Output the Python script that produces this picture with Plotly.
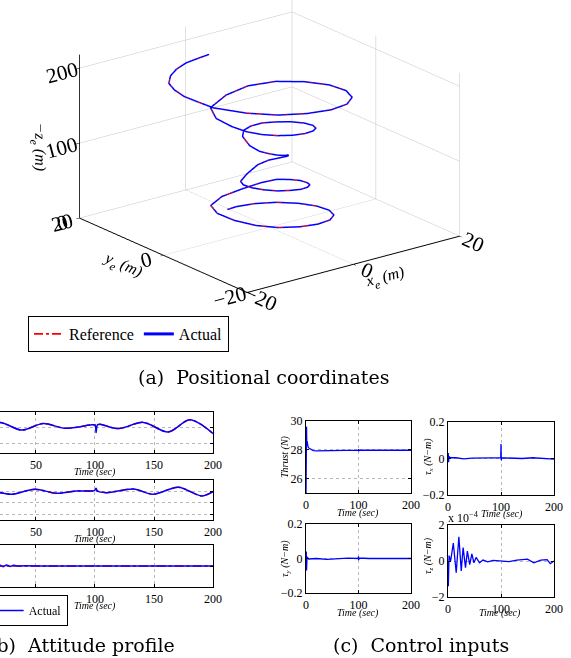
import plotly.graph_objects as go

# ---------------- (a) positional coordinates (3-D trajectory) ----------------
ref_x = [-3.29, -1.54, 1.35, 4.18, 6.51, 7.96, 8.33, 7.60, 5.83, 3.30, 0.44, -2.42, -4.67, -6.24, -7.19, -6.96,
         -4.86, -1.81, 0.65, 2.56,
         3.97, 4.84, 5.10, 4.76, 3.82, 2.46, 0.87, -0.80, -2.20, -3.18, -3.61, -3.44,
         -2.26, -0.74, 0.73, 1.78, 2.38, 2.65, 2.55, 2.24, 1.80, 1.26, 0.67, -0.08, -1.04, -2.16, -3.02, -3.20,
         -2.21, -0.57, 1.41, 3.28, 4.84, 5.84, 6.05, 5.48, 4.21, 2.40, 0.40, -1.52, -3.18, -4.44, -5.41, -6.32,
         -5.68,
         -2.30, 1.73, 5.68, 8.68, 10.56, 10.93, 9.76, 7.25, 3.76, -0.12, -4.04, -7.57, -10.57, -11.63, -12.39,
         -12.42, -11.92, -10.51, -8.64, -6.42, -3.93, -2.28]
ref_y = [5.90, 6.01, 5.33, 3.74, 1.47, -1.11, -3.66, -5.70, -7.00, -7.33, -6.68, -5.06, -2.62, 0.45, 3.37, 5.22,
         5.23, 4.01, 2.86, 1.58,
         0.26, -1.16, -2.49, -3.57, -4.21, -4.32, -3.88, -2.90, -1.46, 0.17, 1.66, 2.58,
         2.55, 1.89, 1.19, 0.54, -0.05, -0.66, -1.20, -1.68, -2.06, -2.27, -2.23, -1.94, -1.30, -0.34, 0.92, 2.40,
         3.38, 3.78, 3.57, 2.54, 0.99, -0.84, -2.63, -4.11, -5.07, -5.34, -4.93, -3.86, -2.24, -0.21, 2.04, 4.74,
         6.90,
         7.47, 7.36, 5.74, 2.72, -0.84, -4.37, -7.32, -9.27, -9.90, -9.14, -7.22, -4.14, -0.03, 2.32, 4.75,
         6.94, 8.94, 10.32, 11.27, 11.77, 11.79, 11.56]
ref_z = [15.0, 15.3, 15.6, 16.0, 16.0, 16.0, 16.0, 16.0, 16.0, 16.0, 16.2, 16.5, 17.5, 19.5, 23.5, 29.0,
         37.0, 45.0, 51.0, 55.0,
         55.5, 56.0, 56.0, 56.5, 56.5, 56.5, 57.0, 57.0, 57.5, 58.0, 59.0, 61.0,
         69.0, 80.0, 85.0, 87.0, 89.0, 91.0, 93.5, 96.0, 98.0, 99.0, 100.0, 101.0, 103.0, 106.0, 112.0, 121.0,
         125.0, 126.5, 127.5, 128.0, 129.0, 130.0, 131.0, 132.0, 133.0, 133.5, 134.0, 134.5, 135.0, 136.0, 139.0, 145.0,
         153.0,
         162.0, 167.0, 169.5, 171.0, 172.0, 172.5, 173.0, 173.5, 174.0, 174.5, 175.0, 176.5, 179.0, 183.0, 186.0,
         189.0, 192.0, 196.0, 199.0, 202.0, 204.0, 206.0]
act_x = ref_x
act_y = ref_y
act_z = ref_z

# ---------------- (b) attitude profile ----------------
b1_t = [0, 19.5, 37.9, 56.2, 74.6, 95.8, 100.0, 100.9, 102.0, 104.2, 119.8, 141.0, 162.1, 180.5, 200]
b1_ref = [0.0, 0.029, -0.019, 0.022, -0.008, 0.012, 0.013, 0.013, 0.014, 0.017, -0.010, 0.029, -0.031, 0.045, -0.041]
b1_act = [0.0, 0.029, -0.019, 0.022, -0.008, 0.012, 0.013, -0.035, 0.012, 0.017, -0.010, 0.029, -0.031, 0.045, -0.041]

b2_t = [0, 19.5, 29.4, 49.2, 67.5, 84.5, 99.5, 100.9, 102.0, 109.9, 132.5, 149.4, 170.6, 190.4, 200]
b2_ref = [0.0, -0.010, -0.024, 0.019, -0.016, 0.004, 0.007, 0.006, 0.004, -0.010, 0.022, -0.024, 0.037, -0.039, -0.002]
b2_act = [0.0, -0.010, -0.024, 0.019, -0.016, 0.004, 0.007, 0.028, 0.004, -0.010, 0.022, -0.024, 0.037, -0.039, -0.002]

b3_t = [0, 19.5, 22, 25, 28, 31, 35, 40, 60, 100, 150, 200]
b3_ref = [0, 0, 0, 0, 0, 0, 0, 0, 0, 0, 0, 0]
b3_act = [0, 0.04, -0.03, 0.05, -0.02, 0.03, 0.0, 0.01, 0.0, 0.0, 0.0, 0.0]

# ---------------- (c) control inputs ----------------
thr_t = [0, 0.3, 1.0, 1.5, 2, 3, 4, 6, 8, 10, 14, 20, 30, 40, 99.8, 100, 100.3, 101, 200]
thr_v = [25.0, 29.6, 29.6, 28.3, 28.6, 28.3, 28.2, 28.1, 28.05, 28.0, 27.95, 27.92, 27.93, 27.95,
         27.97, 28.05, 27.9, 27.97, 27.97]

taux_t = [0, 0.5, 1, 2, 5, 15, 30, 45, 60, 80, 99.5, 100, 100.5, 101, 120, 140, 160, 180, 200]
taux_v = [0, 0.03, -0.02, 0.01, 0.004, 0.004, -0.002, 0.002, 0.004, 0.003, 0.003, 0.08, -0.01,
          0.004, 0.003, 0.0, 0.004, 0.002, -0.003]

tauy_t = [0, 0.5, 1, 2, 5, 20, 40, 60, 80, 99.5, 100, 100.5, 101, 120, 150, 180, 200]
tauy_v = [0, 0.04, -0.07, 0.01, -0.003, 0, -0.005, 0, 0.002, 0, 0.012, -0.01, 0.003, 0, 0.002, 0, 0]

tauz_t = [0, 0.6, 2, 5, 10, 15.5, 20.5, 25, 28.5, 33, 36.5, 41, 45, 49, 53, 59.5, 66, 75, 85, 100,
          115, 130, 150, 162, 175, 187, 193, 200]
tauz_v = [0, -1.4, 0.3, 0, 1.0, -0.65, 1.35, -0.55, 0.75, -0.37, 0.55, -0.2, 0.4, -0.1, 0.2, -0.1,
          0.05, -0.05, 0.03, 0, -0.03, 0.05, 0.1, -0.1, 0.05, 0.08, -0.15, 0]

W, H = 571, 658
SERIF = "Liberation Serif"
RED = "#ff0000"
BLUE = "#0000ff"


def px(x):
    return x / W


def py(y):
    return 1 - y / H


fig = go.Figure()

# 3-D traces
fig.add_trace(go.Scatter3d(x=ref_x, y=ref_y, z=ref_z, mode="lines", name="Reference",
                           line=dict(color=RED, width=1.8, dash="dashdot"), legend="legend"))
fig.add_trace(go.Scatter3d(x=act_x, y=act_y, z=act_z, mode="lines", name="Actual",
                           line=dict(color=BLUE, width=3), legend="legend"))

# (b) traces
for i, (t, r, a) in enumerate([(b1_t, b1_ref, b1_act), (b2_t, b2_ref, b2_act), (b3_t, b3_ref, b3_act)]):
    xa = "x" if i == 0 else f"x{i+1}"
    ya = "y" if i == 0 else f"y{i+1}"
    fig.add_trace(go.Scatter(x=t, y=r, xaxis=xa, yaxis=ya, mode="lines", name="Reference",
                             line=dict(color=RED, width=1.5, dash="dashdot", shape="spline", smoothing=0.9),
                             legend="legend2", showlegend=(i == 0)))
    fig.add_trace(go.Scatter(x=t, y=a, xaxis=xa, yaxis=ya, mode="lines", name="Actual",
                             line=dict(color=BLUE, width=1.5, shape="spline", smoothing=0.9),
                             legend="legend2", showlegend=(i == 0)))

# (c) traces
for t, v, k in [(thr_t, thr_v, 4), (taux_t, taux_v, 5), (tauy_t, tauy_v, 6), (tauz_t, tauz_v, 7)]:
    fig.add_trace(go.Scatter(x=t, y=v, xaxis=f"x{k}", yaxis=f"y{k}", mode="lines",
                             line=dict(color=BLUE, width=1.3), showlegend=False))

axis3d = dict(showbackground=False, gridcolor="#c4c4c4", gridwidth=1, showline=True,
              linecolor="black", linewidth=2, ticks="outside", tickcolor="black", ticklen=4,
              showspikes=False, zeroline=False,
              tickfont=dict(family=SERIF, size=16, color="black"))

layout = dict(
    width=W, height=H, margin=dict(l=0, r=0, t=0, b=0, autoexpand=False),
    paper_bgcolor="white", plot_bgcolor="white",
    font=dict(family=SERIF, color="black"),
    scene=dict(
        domain=dict(x=[0, 1], y=[0.45, 1]),
        aspectmode="manual", aspectratio=dict(x=1.484, y=1.515, z=0.961),
        camera=dict(projection=dict(type="orthographic"),
                    eye=dict(x=-1.6968, y=-2.339, z=0.8444), up=dict(x=0, y=0, z=1),
                    center=dict(x=0.0282, y=-0.107, z=-0.1846)),
        xaxis=dict(axis3d, range=[-20, 20], tickvals=[-20, 0, 20],
                   title=dict(text="<i>x<sub>e</sub> (m)</i>", font=dict(family=SERIF, size=16))),
        yaxis=dict(axis3d, range=[-20, 20], tickvals=[-20, 0, 20],
                   title=dict(text="<i>y<sub>e</sub> (m)</i>", font=dict(family=SERIF, size=16))),
        zaxis=dict(axis3d, range=[0, 218], tickvals=[0, 100, 200],
                   title=dict(text="<i>\u2212z<sub>e</sub> (m)</i>", font=dict(family=SERIF, size=16))),
    ),
    legend=dict(x=px(28), y=py(316), xanchor="left", yanchor="top", orientation="h",
                bordercolor="black", borderwidth=1, bgcolor="white",
                font=dict(family=SERIF, size=16, color="black"), itemwidth=30),
    legend2=dict(x=px(68), y=py(595), xanchor="right", yanchor="top", orientation="h",
                 bordercolor="black", borderwidth=1, bgcolor="white",
                 font=dict(family=SERIF, size=12, color="black"), itemwidth=30),
)


def xax(dom, rng, ticks, anchor):
    return dict(domain=dom, range=rng, tickvals=ticks, anchor=anchor, showline=True,
                linecolor="black", linewidth=1.3, mirror="ticks", ticks="inside", ticklen=3,
                tickcolor="black", showgrid=True, gridcolor="#b8b8b8", griddash="dot",
                gridwidth=1, zeroline=False, tickfont=dict(family=SERIF, size=12, color="black"))


def yax(dom, rng, ticks, anchor, **kw):
    d = dict(domain=dom, range=rng, tickvals=ticks, anchor=anchor, showline=True,
             linecolor="black", linewidth=1.3, mirror="ticks", ticks="inside", ticklen=3,
             tickcolor="black", showgrid=True, gridcolor="#b8b8b8", griddash="dot",
             gridwidth=1, zeroline=False, tickfont=dict(family=SERIF, size=12, color="black"))
    d.update(kw)
    return d


bx = [0, px(213)]
b_rng = [19.5, 200]
b_doms = [[py(453), py(412)], [py(520), py(480)], [py(587), py(545)]]
b_yr = [[-0.1625, 0.094], [-0.248, 0.1], [-1.0, 1.0]]
b_yt = [[-0.1, 0], [-0.2, -0.1, 0], [0]]
for i in range(3):
    sx = "" if i == 0 else str(i + 1)
    layout["xaxis" + sx] = xax(bx, b_rng, [50, 100, 150, 200], "y" + sx)
    layout["yaxis" + sx] = yax(b_doms[i], b_yr[i], b_yt[i], "x" + sx, side="right", mirror=False,
                               showticklabels=False)

cx_left = [px(306), px(411)]
cx_right = [px(448), px(554)]
layout["xaxis4"] = xax(cx_left, [0, 200], [0, 100, 200], "y4")
layout["yaxis4"] = yax([py(493), py(421)], [25, 30], [26, 28, 30], "x4")
layout["xaxis5"] = xax(cx_right, [0, 200], [0, 100, 200], "y5")
layout["yaxis5"] = yax([py(495), py(422)], [-0.2, 0.2], [-0.2, 0, 0.2], "x5")
layout["xaxis6"] = xax(cx_left, [0, 200], [0, 100, 200], "y6")
layout["yaxis6"] = yax([py(593), py(524)], [-0.2, 0.2], [-0.2, 0, 0.2], "x6")
layout["xaxis7"] = xax(cx_right, [0, 200], [0, 100, 200], "y7")
layout["yaxis7"] = yax([py(597), py(525)], [-2, 2], [-2, 0, 2], "x7")

ann = []
tfont = dict(family=SERIF, size=10, color="black")
for (xx, yy) in [(95, 472), (95, 539), (95, 606), (358, 513), (502, 514), (358, 613), (500, 613)]:
    ann.append(dict(x=px(xx), y=py(yy), xref="paper", yref="paper", text="<i>Time (sec)</i>",
                    showarrow=False, font=tfont, xanchor="center", yanchor="middle"))
for (xx, yy, txt) in [(285, 457, "<i>Thrust (N)</i>"), (428, 457, "<i>\u03c4<sub>x</sub> (N\u2212m)</i>"),
                      (285, 559, "<i>\u03c4<sub>y</sub> (N\u2212m)</i>"),
                      (428, 556, "<i>\u03c4<sub>z</sub> (N\u2212m)</i>")]:
    ann.append(dict(x=px(xx), y=py(yy), xref="paper", yref="paper", text=txt, textangle=-90,
                    showarrow=False, font=tfont, xanchor="center", yanchor="middle"))
ann.append(dict(x=px(446), y=py(517), xref="paper", yref="paper", text="x 10<sup>\u22124</sup>",
                showarrow=False, font=dict(family=SERIF, size=12), xanchor="left", yanchor="middle"))
cap = dict(family="DejaVu Serif", size=19, color="black")
ann.append(dict(x=px(263), y=py(377), xref="paper", yref="paper", text="(a)  Positional coordinates",
                showarrow=False, font=cap, xanchor="center", yanchor="middle"))
ann.append(dict(x=px(177), y=py(645), xref="paper", yref="paper", text="(b)  Attitude profile",
                showarrow=False, font=cap, xanchor="right", yanchor="middle"))
ann.append(dict(x=px(421), y=py(645), xref="paper", yref="paper", text="(c)  Control inputs",
                showarrow=False, font=cap, xanchor="center", yanchor="middle"))
layout["annotations"] = ann

fig.update_layout(layout)
fig.write_html("out.html", config={"displayModeBar": False},
               post_script="document.body.style.margin='0px';")
